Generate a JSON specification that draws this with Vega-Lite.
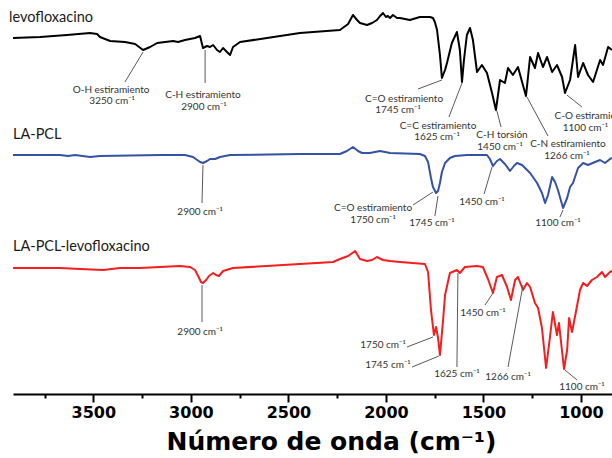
{
  "$schema": "https://vega.github.io/schema/vega-lite/v6.json",
  "width": 599,
  "height": 394,
  "autosize": {"type": "none"},
  "padding": {"left": 13, "top": 0, "right": 0, "bottom": 64},
  "background": "white",
  "config": {"view": {"stroke": null}},
  "resolve": {"axis": {"x": "independent"}},
  "datasets": {
    "spectra": [
      {"s": "levofloxacino", "wn": 3912, "t": 356}, {"s": "levofloxacino", "wn": 3773, "t": 357}, {"s": "levofloxacino", "wn": 3635, "t": 359}, {"s": "levofloxacino", "wn": 3517, "t": 361}, {"s": "levofloxacino", "wn": 3481, "t": 360}, {"s": "levofloxacino", "wn": 3466, "t": 357}, {"s": "levofloxacino", "wn": 3414, "t": 353}, {"s": "levofloxacino", "wn": 3338, "t": 352}, {"s": "levofloxacino", "wn": 3286, "t": 350}, {"s": "levofloxacino", "wn": 3245, "t": 344}, {"s": "levofloxacino", "wn": 3209, "t": 347}, {"s": "levofloxacino", "wn": 3173, "t": 351}, {"s": "levofloxacino", "wn": 3132, "t": 352}, {"s": "levofloxacino", "wn": 3091, "t": 353}, {"s": "levofloxacino", "wn": 3066, "t": 352}, {"s": "levofloxacino", "wn": 3030, "t": 354}, {"s": "levofloxacino", "wn": 2979, "t": 356}, {"s": "levofloxacino", "wn": 2953, "t": 358}, {"s": "levofloxacino", "wn": 2938, "t": 346}, {"s": "levofloxacino", "wn": 2917, "t": 348}, {"s": "levofloxacino", "wn": 2902, "t": 347}, {"s": "levofloxacino", "wn": 2886, "t": 349}, {"s": "levofloxacino", "wn": 2866, "t": 344}, {"s": "levofloxacino", "wn": 2851, "t": 342}, {"s": "levofloxacino", "wn": 2835, "t": 346}, {"s": "levofloxacino", "wn": 2815, "t": 342}, {"s": "levofloxacino", "wn": 2799, "t": 339}, {"s": "levofloxacino", "wn": 2784, "t": 347}, {"s": "levofloxacino", "wn": 2748, "t": 352}, {"s": "levofloxacino", "wn": 2610, "t": 356}, {"s": "levofloxacino", "wn": 2441, "t": 361}, {"s": "levofloxacino", "wn": 2236, "t": 364}, {"s": "levofloxacino", "wn": 2194, "t": 370}, {"s": "levofloxacino", "wn": 2169, "t": 379}, {"s": "levofloxacino", "wn": 2148, "t": 374}, {"s": "levofloxacino", "wn": 2133, "t": 371}, {"s": "levofloxacino", "wn": 2097, "t": 369}, {"s": "levofloxacino", "wn": 2071, "t": 371}, {"s": "levofloxacino", "wn": 2046, "t": 374}, {"s": "levofloxacino", "wn": 2030, "t": 378}, {"s": "levofloxacino", "wn": 2015, "t": 381}, {"s": "levofloxacino", "wn": 2000, "t": 377}, {"s": "levofloxacino", "wn": 1990, "t": 378}, {"s": "levofloxacino", "wn": 1979, "t": 376}, {"s": "levofloxacino", "wn": 1964, "t": 379}, {"s": "levofloxacino", "wn": 1943, "t": 376}, {"s": "levofloxacino", "wn": 1928, "t": 376}, {"s": "levofloxacino", "wn": 1877, "t": 374}, {"s": "levofloxacino", "wn": 1826, "t": 377}, {"s": "levofloxacino", "wn": 1774, "t": 377}, {"s": "levofloxacino", "wn": 1759, "t": 376}, {"s": "levofloxacino", "wn": 1749, "t": 372}, {"s": "levofloxacino", "wn": 1738, "t": 364}, {"s": "levofloxacino", "wn": 1723, "t": 339}, {"s": "levofloxacino", "wn": 1713, "t": 316}, {"s": "levofloxacino", "wn": 1697, "t": 324}, {"s": "levofloxacino", "wn": 1687, "t": 331}, {"s": "levofloxacino", "wn": 1662, "t": 351}, {"s": "levofloxacino", "wn": 1636, "t": 362}, {"s": "levofloxacino", "wn": 1621, "t": 344}, {"s": "levofloxacino", "wn": 1610, "t": 312}, {"s": "levofloxacino", "wn": 1600, "t": 334}, {"s": "levofloxacino", "wn": 1585, "t": 359}, {"s": "levofloxacino", "wn": 1569, "t": 366}, {"s": "levofloxacino", "wn": 1554, "t": 354}, {"s": "levofloxacino", "wn": 1533, "t": 322}, {"s": "levofloxacino", "wn": 1508, "t": 329}, {"s": "levofloxacino", "wn": 1482, "t": 321}, {"s": "levofloxacino", "wn": 1456, "t": 301}, {"s": "levofloxacino", "wn": 1436, "t": 284}, {"s": "levofloxacino", "wn": 1415, "t": 314}, {"s": "levofloxacino", "wn": 1390, "t": 311}, {"s": "levofloxacino", "wn": 1374, "t": 326}, {"s": "levofloxacino", "wn": 1349, "t": 319}, {"s": "levofloxacino", "wn": 1323, "t": 327}, {"s": "levofloxacino", "wn": 1302, "t": 312}, {"s": "levofloxacino", "wn": 1282, "t": 298}, {"s": "levofloxacino", "wn": 1261, "t": 337}, {"s": "levofloxacino", "wn": 1236, "t": 326}, {"s": "levofloxacino", "wn": 1220, "t": 341}, {"s": "levofloxacino", "wn": 1195, "t": 327}, {"s": "levofloxacino", "wn": 1174, "t": 337}, {"s": "levofloxacino", "wn": 1148, "t": 322}, {"s": "levofloxacino", "wn": 1123, "t": 329}, {"s": "levofloxacino", "wn": 1097, "t": 317}, {"s": "levofloxacino", "wn": 1082, "t": 301}, {"s": "levofloxacino", "wn": 1056, "t": 314}, {"s": "levofloxacino", "wn": 1030, "t": 349}, {"s": "levofloxacino", "wn": 1015, "t": 317}, {"s": "levofloxacino", "wn": 989, "t": 331}, {"s": "levofloxacino", "wn": 964, "t": 319}, {"s": "levofloxacino", "wn": 938, "t": 312}, {"s": "levofloxacino", "wn": 902, "t": 334}, {"s": "levofloxacino", "wn": 887, "t": 329}, {"s": "levofloxacino", "wn": 861, "t": 347}, {"s": "levofloxacino", "wn": 841, "t": 344},
      {"s": "LA-PCL", "wn": 3912, "t": 239}, {"s": "LA-PCL", "wn": 3671, "t": 239}, {"s": "LA-PCL", "wn": 3630, "t": 238}, {"s": "LA-PCL", "wn": 3594, "t": 239}, {"s": "LA-PCL", "wn": 3517, "t": 237}, {"s": "LA-PCL", "wn": 3466, "t": 238}, {"s": "LA-PCL", "wn": 3158, "t": 239}, {"s": "LA-PCL", "wn": 3030, "t": 239}, {"s": "LA-PCL", "wn": 2989, "t": 237}, {"s": "LA-PCL", "wn": 2953, "t": 232}, {"s": "LA-PCL", "wn": 2938, "t": 231}, {"s": "LA-PCL", "wn": 2917, "t": 233}, {"s": "LA-PCL", "wn": 2902, "t": 235}, {"s": "LA-PCL", "wn": 2876, "t": 235}, {"s": "LA-PCL", "wn": 2851, "t": 237}, {"s": "LA-PCL", "wn": 2799, "t": 239}, {"s": "LA-PCL", "wn": 2441, "t": 240}, {"s": "LA-PCL", "wn": 2236, "t": 240}, {"s": "LA-PCL", "wn": 2200, "t": 243}, {"s": "LA-PCL", "wn": 2169, "t": 247}, {"s": "LA-PCL", "wn": 2143, "t": 243}, {"s": "LA-PCL", "wn": 2123, "t": 241}, {"s": "LA-PCL", "wn": 2082, "t": 241}, {"s": "LA-PCL", "wn": 2030, "t": 243}, {"s": "LA-PCL", "wn": 1979, "t": 241}, {"s": "LA-PCL", "wn": 1826, "t": 240}, {"s": "LA-PCL", "wn": 1800, "t": 238}, {"s": "LA-PCL", "wn": 1784, "t": 232}, {"s": "LA-PCL", "wn": 1769, "t": 216}, {"s": "LA-PCL", "wn": 1759, "t": 207}, {"s": "LA-PCL", "wn": 1743, "t": 201}, {"s": "LA-PCL", "wn": 1733, "t": 203}, {"s": "LA-PCL", "wn": 1723, "t": 211}, {"s": "LA-PCL", "wn": 1713, "t": 222}, {"s": "LA-PCL", "wn": 1697, "t": 231}, {"s": "LA-PCL", "wn": 1672, "t": 236}, {"s": "LA-PCL", "wn": 1646, "t": 238}, {"s": "LA-PCL", "wn": 1585, "t": 239}, {"s": "LA-PCL", "wn": 1482, "t": 239}, {"s": "LA-PCL", "wn": 1467, "t": 235}, {"s": "LA-PCL", "wn": 1451, "t": 228}, {"s": "LA-PCL", "wn": 1431, "t": 233}, {"s": "LA-PCL", "wn": 1415, "t": 235}, {"s": "LA-PCL", "wn": 1390, "t": 230}, {"s": "LA-PCL", "wn": 1364, "t": 223}, {"s": "LA-PCL", "wn": 1344, "t": 228}, {"s": "LA-PCL", "wn": 1328, "t": 231}, {"s": "LA-PCL", "wn": 1302, "t": 229}, {"s": "LA-PCL", "wn": 1261, "t": 221}, {"s": "LA-PCL", "wn": 1225, "t": 211}, {"s": "LA-PCL", "wn": 1200, "t": 201}, {"s": "LA-PCL", "wn": 1184, "t": 191}, {"s": "LA-PCL", "wn": 1169, "t": 199}, {"s": "LA-PCL", "wn": 1148, "t": 217}, {"s": "LA-PCL", "wn": 1133, "t": 212}, {"s": "LA-PCL", "wn": 1118, "t": 204}, {"s": "LA-PCL", "wn": 1092, "t": 186}, {"s": "LA-PCL", "wn": 1071, "t": 196}, {"s": "LA-PCL", "wn": 1056, "t": 207}, {"s": "LA-PCL", "wn": 1041, "t": 211}, {"s": "LA-PCL", "wn": 1015, "t": 226}, {"s": "LA-PCL", "wn": 989, "t": 231}, {"s": "LA-PCL", "wn": 964, "t": 229}, {"s": "LA-PCL", "wn": 928, "t": 232}, {"s": "LA-PCL", "wn": 902, "t": 234}, {"s": "LA-PCL", "wn": 877, "t": 231}, {"s": "LA-PCL", "wn": 851, "t": 235}, {"s": "LA-PCL", "wn": 841, "t": 236},
      {"s": "LA-PCL-levofloxacino", "wn": 3912, "t": 126}, {"s": "LA-PCL-levofloxacino", "wn": 3671, "t": 126}, {"s": "LA-PCL-levofloxacino", "wn": 3568, "t": 125}, {"s": "LA-PCL-levofloxacino", "wn": 3450, "t": 124}, {"s": "LA-PCL-levofloxacino", "wn": 3363, "t": 126}, {"s": "LA-PCL-levofloxacino", "wn": 3261, "t": 126}, {"s": "LA-PCL-levofloxacino", "wn": 3056, "t": 128}, {"s": "LA-PCL-levofloxacino", "wn": 3004, "t": 127}, {"s": "LA-PCL-levofloxacino", "wn": 2979, "t": 124}, {"s": "LA-PCL-levofloxacino", "wn": 2963, "t": 118}, {"s": "LA-PCL-levofloxacino", "wn": 2948, "t": 112}, {"s": "LA-PCL-levofloxacino", "wn": 2938, "t": 111}, {"s": "LA-PCL-levofloxacino", "wn": 2922, "t": 114}, {"s": "LA-PCL-levofloxacino", "wn": 2907, "t": 118}, {"s": "LA-PCL-levofloxacino", "wn": 2886, "t": 121}, {"s": "LA-PCL-levofloxacino", "wn": 2871, "t": 119}, {"s": "LA-PCL-levofloxacino", "wn": 2856, "t": 118}, {"s": "LA-PCL-levofloxacino", "wn": 2835, "t": 123}, {"s": "LA-PCL-levofloxacino", "wn": 2784, "t": 126}, {"s": "LA-PCL-levofloxacino", "wn": 2441, "t": 130}, {"s": "LA-PCL-levofloxacino", "wn": 2271, "t": 132}, {"s": "LA-PCL-levofloxacino", "wn": 2236, "t": 135}, {"s": "LA-PCL-levofloxacino", "wn": 2194, "t": 138}, {"s": "LA-PCL-levofloxacino", "wn": 2158, "t": 143}, {"s": "LA-PCL-levofloxacino", "wn": 2133, "t": 135}, {"s": "LA-PCL-levofloxacino", "wn": 2097, "t": 133}, {"s": "LA-PCL-levofloxacino", "wn": 2071, "t": 134}, {"s": "LA-PCL-levofloxacino", "wn": 2046, "t": 137}, {"s": "LA-PCL-levofloxacino", "wn": 2015, "t": 134}, {"s": "LA-PCL-levofloxacino", "wn": 1979, "t": 133}, {"s": "LA-PCL-levofloxacino", "wn": 1928, "t": 132}, {"s": "LA-PCL-levofloxacino", "wn": 1800, "t": 130}, {"s": "LA-PCL-levofloxacino", "wn": 1784, "t": 122}, {"s": "LA-PCL-levofloxacino", "wn": 1769, "t": 84}, {"s": "LA-PCL-levofloxacino", "wn": 1754, "t": 59}, {"s": "LA-PCL-levofloxacino", "wn": 1743, "t": 67}, {"s": "LA-PCL-levofloxacino", "wn": 1733, "t": 56}, {"s": "LA-PCL-levofloxacino", "wn": 1723, "t": 39}, {"s": "LA-PCL-levofloxacino", "wn": 1707, "t": 74}, {"s": "LA-PCL-levofloxacino", "wn": 1697, "t": 99}, {"s": "LA-PCL-levofloxacino", "wn": 1672, "t": 121}, {"s": "LA-PCL-levofloxacino", "wn": 1636, "t": 124}, {"s": "LA-PCL-levofloxacino", "wn": 1621, "t": 121}, {"s": "LA-PCL-levofloxacino", "wn": 1595, "t": 127}, {"s": "LA-PCL-levofloxacino", "wn": 1533, "t": 128}, {"s": "LA-PCL-levofloxacino", "wn": 1503, "t": 127}, {"s": "LA-PCL-levofloxacino", "wn": 1477, "t": 115}, {"s": "LA-PCL-levofloxacino", "wn": 1451, "t": 101}, {"s": "LA-PCL-levofloxacino", "wn": 1431, "t": 117}, {"s": "LA-PCL-levofloxacino", "wn": 1405, "t": 119}, {"s": "LA-PCL-levofloxacino", "wn": 1379, "t": 107}, {"s": "LA-PCL-levofloxacino", "wn": 1359, "t": 94}, {"s": "LA-PCL-levofloxacino", "wn": 1338, "t": 114}, {"s": "LA-PCL-levofloxacino", "wn": 1323, "t": 117}, {"s": "LA-PCL-levofloxacino", "wn": 1297, "t": 104}, {"s": "LA-PCL-levofloxacino", "wn": 1277, "t": 111}, {"s": "LA-PCL-levofloxacino", "wn": 1261, "t": 107}, {"s": "LA-PCL-levofloxacino", "wn": 1236, "t": 91}, {"s": "LA-PCL-levofloxacino", "wn": 1220, "t": 86}, {"s": "LA-PCL-levofloxacino", "wn": 1200, "t": 66}, {"s": "LA-PCL-levofloxacino", "wn": 1179, "t": 26}, {"s": "LA-PCL-levofloxacino", "wn": 1159, "t": 57}, {"s": "LA-PCL-levofloxacino", "wn": 1144, "t": 82}, {"s": "LA-PCL-levofloxacino", "wn": 1123, "t": 59}, {"s": "LA-PCL-levofloxacino", "wn": 1113, "t": 71}, {"s": "LA-PCL-levofloxacino", "wn": 1087, "t": 25}, {"s": "LA-PCL-levofloxacino", "wn": 1071, "t": 44}, {"s": "LA-PCL-levofloxacino", "wn": 1061, "t": 76}, {"s": "LA-PCL-levofloxacino", "wn": 1046, "t": 62}, {"s": "LA-PCL-levofloxacino", "wn": 1030, "t": 78}, {"s": "LA-PCL-levofloxacino", "wn": 1005, "t": 104}, {"s": "LA-PCL-levofloxacino", "wn": 989, "t": 111}, {"s": "LA-PCL-levofloxacino", "wn": 969, "t": 108}, {"s": "LA-PCL-levofloxacino", "wn": 944, "t": 114}, {"s": "LA-PCL-levofloxacino", "wn": 918, "t": 117}, {"s": "LA-PCL-levofloxacino", "wn": 892, "t": 122}, {"s": "LA-PCL-levofloxacino", "wn": 877, "t": 117}, {"s": "LA-PCL-levofloxacino", "wn": 851, "t": 122}, {"s": "LA-PCL-levofloxacino", "wn": 841, "t": 123}
    ],
    "leaders": [
      {"wn": 3245, "t": 342, "wn2": 3338, "t2": 312},
      {"wn": 2927, "t": 344, "wn2": 2927, "t2": 311},
      {"wn": 1713, "t": 314, "wn2": 1836, "t2": 305},
      {"wn": 1610, "t": 311, "wn2": 1677, "t2": 277},
      {"wn": 1431, "t": 283, "wn2": 1410, "t2": 267},
      {"wn": 1277, "t": 297, "wn2": 1169, "t2": 258},
      {"wn": 1072, "t": 299, "wn2": 995, "t2": 287},
      {"wn": 2938, "t": 229, "wn2": 2943, "t2": 191},
      {"wn": 1759, "t": 202, "wn2": 1861, "t2": 189},
      {"wn": 1733, "t": 198, "wn2": 1749, "t2": 178},
      {"wn": 1456, "t": 227, "wn2": 1497, "t2": 200},
      {"wn": 1092, "t": 184, "wn2": 1108, "t2": 177},
      {"wn": 2943, "t": 109, "wn2": 2943, "t2": 72},
      {"wn": 1759, "t": 57, "wn2": 1892, "t2": 47},
      {"wn": 1728, "t": 38, "wn2": 1866, "t2": 27},
      {"wn": 1631, "t": 121, "wn2": 1636, "t2": 27},
      {"wn": 1451, "t": 101, "wn2": 1492, "t2": 89},
      {"wn": 1297, "t": 109, "wn2": 1374, "t2": 27},
      {"wn": 1082, "t": 24, "wn2": 1020, "t2": 14}
    ],
    "notes": [
      {"label": "O-H estiramiento", "wn": 3409, "t": 304},
      {"label": "3250 cm⁻¹", "wn": 3404, "t": 293},
      {"label": "C-H estiramiento", "wn": 2938, "t": 299},
      {"label": "2900 cm⁻¹", "wn": 2933, "t": 287},
      {"label": "C=O estiramiento", "wn": 1907, "t": 295},
      {"label": "1745 cm⁻¹", "wn": 1938, "t": 284},
      {"label": "C=C estiramiento", "wn": 1733, "t": 268},
      {"label": "1625 cm⁻¹", "wn": 1738, "t": 257},
      {"label": "C-H torsión", "wn": 1405, "t": 259},
      {"label": "1450 cm⁻¹", "wn": 1415, "t": 247},
      {"label": "C-N estiramiento", "wn": 1067, "t": 250},
      {"label": "1266 cm⁻¹", "wn": 1072, "t": 238},
      {"label": "C-O estiramiento", "wn": 941, "t": 278},
      {"label": "1100 cm⁻¹", "wn": 977, "t": 266},
      {"label": "2900 cm⁻¹", "wn": 2953, "t": 182},
      {"label": "C=O estiramiento", "wn": 2066, "t": 186},
      {"label": "1750 cm⁻¹", "wn": 2066, "t": 174},
      {"label": "1745 cm⁻¹", "wn": 1764, "t": 171},
      {"label": "1450 cm⁻¹", "wn": 1508, "t": 192},
      {"label": "1100 cm⁻¹", "wn": 1118, "t": 171},
      {"label": "2900 cm⁻¹", "wn": 2953, "t": 62},
      {"label": "1750 cm⁻¹", "wn": 2015, "t": 49},
      {"label": "1745 cm⁻¹", "wn": 1990, "t": 29},
      {"label": "1625 cm⁻¹", "wn": 1636, "t": 20},
      {"label": "1450 cm⁻¹", "wn": 1503, "t": 81},
      {"label": "1266 cm⁻¹", "wn": 1374, "t": 17},
      {"label": "1100 cm⁻¹", "wn": 995, "t": 7}
    ],
    "series": [
      {"label": "levofloxacino", "wn": 3932, "t": 376},
      {"label": "LA-PCL", "wn": 3912, "t": 259},
      {"label": "LA-PCL-levofloxacino", "wn": 3912, "t": 147}
    ]
  },
  "layer": [
    {
      "data": {"name": "spectra"},
      "mark": {"type": "line", "strokeWidth": 2, "strokeJoin": "round"},
      "encoding": {
        "x": {
          "field": "wn", "type": "quantitative",
          "scale": {"domain": [841, 3912], "reverse": true, "nice": false, "zero": false},
          "axis": {
            "orient": "bottom",
            "title": "Número de onda (cm⁻¹)",
            "values": [1000, 1500, 2000, 2500, 3000, 3500],
            "format": "d",
            "labelFlush": false,
            "labelOverlap": false,
            "grid": false,
            "domainColor": "black",
            "domainWidth": 2,
            "tickColor": "black",
            "tickWidth": 2,
            "tickSize": 8,
            "labelFont": "DejaVu Sans",
            "labelFontWeight": "bold",
            "labelFontSize": 16,
            "labelColor": "black",
            "labelPadding": 2,
            "titleFont": "DejaVu Sans",
            "titleFontWeight": "bold",
            "titleFontSize": 25,
            "titleColor": "black",
            "titleX": 318,
            "titleY": 55,
            "titleBaseline": "alphabetic"
          }
        },
        "y": {"field": "t", "type": "quantitative", "scale": {"domain": [0, 394], "nice": false, "zero": false}, "axis": null},
        "color": {
          "field": "s", "type": "nominal",
          "scale": {"domain": ["levofloxacino", "LA-PCL", "LA-PCL-levofloxacino"], "range": ["#000000", "#3553a6", "#f51d1d"]},
          "legend": null
        },
        "detail": {"field": "s"}
      }
    },
    {
      "data": {"name": "leaders"},
      "mark": {"type": "rule", "color": "#5a5a5a", "strokeWidth": 1},
      "encoding": {
        "x": {
          "field": "wn", "type": "quantitative",
          "axis": {
            "orient": "bottom",
            "title": null,
            "values": [1250, 1750, 2250, 2750, 3250, 3750],
            "labels": false,
            "domain": false,
            "grid": false,
            "tickColor": "black",
            "tickWidth": 2,
            "tickSize": 4
          }
        },
        "y": {"field": "t", "type": "quantitative", "axis": null},
        "x2": {"field": "wn2"},
        "y2": {"field": "t2"}
      }
    },
    {
      "data": {"name": "notes"},
      "mark": {"type": "text", "font": "Lato", "fontSize": 10, "color": "#333333", "align": "center", "baseline": "middle"},
      "encoding": {
        "x": {"field": "wn", "type": "quantitative", "axis": null},
        "y": {"field": "t", "type": "quantitative", "axis": null},
        "text": {"field": "label"}
      }
    },
    {
      "data": {"name": "series"},
      "mark": {"type": "text", "font": "Lato", "fontSize": 14.5, "color": "#1a1a1a", "align": "left", "baseline": "middle"},
      "encoding": {
        "x": {"field": "wn", "type": "quantitative", "axis": null},
        "y": {"field": "t", "type": "quantitative", "axis": null},
        "text": {"field": "label"}
      }
    }
  ]
}
